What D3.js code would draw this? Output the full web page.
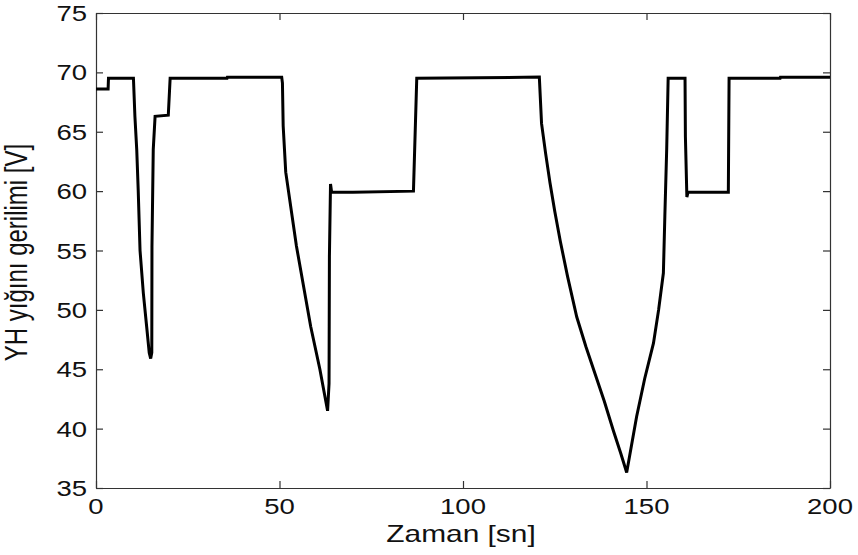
<!DOCTYPE html>
<html>
<head>
<meta charset="utf-8">
<script src="https://cdn.jsdelivr.net/npm/d3@7"></script>
<style>
  html, body { margin: 0; padding: 0; background: #fff; }
  svg { display: block; }
  text { font-family: "Liberation Sans", Arial, sans-serif; fill: #111; }
</style>
</head>
<body>
<script>
// ---- data ----
const timeSec = [0, 3.3, 3.4, 10.2, 10.6, 11.1, 11.5, 12.0, 12.9, 13.8, 14.5, 14.9, 15.2, 15.25, 15.6, 16.1, 19.7, 20.2,
  35.7, 35.8, 50.6, 50.8, 51.0, 51.7, 54.6, 58.5, 61.0, 63.1, 63.5, 63.6, 63.9, 64.2, 70, 86.5, 87.4,
  120.8, 121.4, 122.5, 123.7, 125.0, 126.5, 128.5, 131.0, 133.5, 136.0, 138.5, 141.0, 143.0, 144.6,
  147.3, 149.5, 151.9, 153.3, 154.6, 155.0, 155.5, 155.9,
  160.5, 160.6, 161.0, 161.3, 172.3, 172.5, 186.4, 186.5, 200];
const voltage = [68.6, 68.6, 69.5, 69.5, 66.3, 63.5, 60.1, 55.0, 51.4, 48.6, 46.4, 45.9, 46.4, 55.3, 63.5, 66.3, 66.4, 69.5,
  69.5, 69.6, 69.6, 69.1, 65.5, 61.6, 55.4, 48.6, 45.0, 41.5, 43.8, 54.5, 60.6, 59.9, 59.9, 60.0, 69.5,
  69.6, 65.7, 63.2, 60.7, 58.3, 55.8, 52.8, 49.4, 46.9, 44.6, 42.3, 39.8, 37.9, 36.3,
  41.0, 44.2, 47.2, 50.0, 53.1, 57.9, 63.5, 69.5,
  69.5, 64.6, 59.5, 59.9, 59.9, 69.5, 69.5, 69.6, 69.6];
const xTicks = [0, 50, 100, 150, 200];
const yTicks = [35, 40, 45, 50, 55, 60, 65, 70, 75];
const xLabel = "Zaman [sn]";
const yLabel = "YH yığını gerilimi [V]";

// ---- layout ----
const W = 858, H = 555;
const m = { left: 96, right: 28, top: 13, bottom: 67 };
const iw = W - m.left - m.right, ih = H - m.top - m.bottom;
const sx = 1.25; // horizontal text stretch seen in the reference

const svg = d3.select("body").append("svg").attr("width", W).attr("height", H);
const g = svg.append("g").attr("transform", `translate(${m.left},${m.top})`);

const x = d3.scaleLinear().domain([0, 200]).range([0, iw]);
const y = d3.scaleLinear().domain([35, 75]).range([ih, 0]);

// axes with inward ticks (all four sides)
const tickLen = 7;
function styleAxis(sel) {
  sel.selectAll("path").attr("stroke", "#333").attr("stroke-width", 1.2);
  sel.selectAll("line").attr("stroke", "#333").attr("stroke-width", 1.2);
  sel.selectAll("text").remove();
}
g.append("g").attr("transform", `translate(0,${ih})`)
  .call(d3.axisBottom(x).tickValues(xTicks).tickSizeInner(-tickLen).tickSizeOuter(0)).call(styleAxis);
g.append("g")
  .call(d3.axisTop(x).tickValues(xTicks).tickSizeInner(-tickLen).tickSizeOuter(0)).call(styleAxis);
g.append("g")
  .call(d3.axisLeft(y).tickValues(yTicks).tickSizeInner(-tickLen).tickSizeOuter(0)).call(styleAxis);
g.append("g").attr("transform", `translate(${iw},0)`)
  .call(d3.axisRight(y).tickValues(yTicks).tickSizeInner(-tickLen).tickSizeOuter(0)).call(styleAxis);

// tick labels (stretched horizontally)
g.selectAll(".xtl").data(xTicks).enter().append("text")
  .attr("transform", d => `translate(${x(d)},${ih + 26}) scale(${sx},1)`)
  .attr("text-anchor", "middle").attr("font-size", 22).text(d => d);
g.selectAll(".ytl").data(yTicks).enter().append("text")
  .attr("transform", d => `translate(${-9},${y(d) + 8}) scale(${sx},1)`)
  .attr("text-anchor", "end").attr("font-size", 22).text(d => d);

// axis titles
g.append("text")
  .attr("transform", `translate(${iw / 2 - 2},${ih + 54}) scale(1.3,1)`)
  .attr("text-anchor", "middle").attr("font-size", 23).text(xLabel);
g.append("text")
  .attr("transform", `translate(${-69},${ih / 2 + 2}) scale(1.3,1) rotate(-90)`)
  .attr("text-anchor", "middle").attr("font-size", 24).text(yLabel);

// line
const line = d3.line().x((d, i) => x(timeSec[i])).y(d => y(d));
g.append("path").datum(voltage)
  .attr("fill", "none").attr("stroke", "#000").attr("stroke-width", 3)
  .attr("stroke-linejoin", "miter").attr("stroke-miterlimit", 3)
  .attr("d", line);
</script>
</body>
</html>
